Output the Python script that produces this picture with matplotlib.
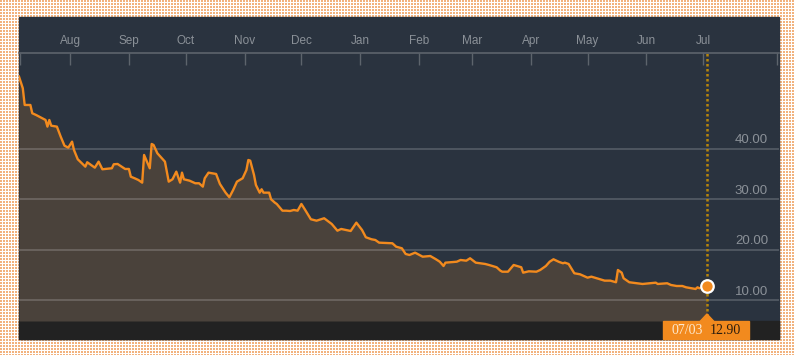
import numpy as np
import pandas as pd
import matplotlib
matplotlib.use( 'Agg' )
import matplotlib.pyplot as plt
import matplotlib.dates as mdates
from matplotlib.patches import Rectangle, Polygon
from matplotlib.transforms import offset_copy

# price series (days counted from start_date)
start_date = '2017-07-05'
day_offsets = [ 0, 2, 3, 6, 7, 9, 14, 15, 16, 17, 20, 22, 24, 26, 28, 29, 31, 35, 36, 40, 42, 44, 49, 50, 52, 56, 58, 59, 61,
    63, 65, 66, 69, 70, 71, 73, 77, 79, 81, 83, 85, 86, 87, 90, 93, 95, 97, 98, 100, 104, 106, 109, 111, 113, 115, 118,
    120, 121, 122, 124, 125, 127, 128, 129, 132, 133, 135, 136, 139, 141, 143, 145, 147, 149, 151, 154, 157, 161, 165,
    168, 170, 175, 178, 181, 183, 186, 188, 190, 197, 199, 202, 204, 206, 209, 213, 217, 220, 222, 224, 225, 231, 233,
    236, 238, 241, 246, 248, 252, 254, 255, 258, 261, 265, 266, 269, 273, 275, 278, 280, 282, 285, 287, 288, 290, 293,
    296, 300, 302, 306, 309, 312, 315, 316, 318, 319, 322, 326, 329, 336, 337, 342, 344, 347, 350, 352, 357, 358, 359, 363 ]
prices = [ 54.32, 52.02, 48.71, 48.71, 47.07, 46.73, 45.74, 44.42, 45.74, 44.61, 44.42, 42.44, 40.65, 40.26, 41.45,
    39.80, 37.96, 36.50, 37.37, 36.30, 37.49, 35.98, 36.18, 36.97, 37.03, 36.04, 36.04, 34.51, 34.20,
    33.86, 33.33, 38.81, 36.18, 40.99, 40.79, 39.15, 37.49, 33.53, 34.00, 35.51, 33.33, 35.31, 34.00, 33.72, 33.21,
    33.21, 32.54, 34.20, 35.31, 35.05, 33.07, 31.35, 30.44, 31.88, 33.53, 34.20, 35.84, 37.82, 37.68, 34.85, 32.87,
    31.35, 32.02, 31.35, 31.35, 30.04, 29.37, 29.11, 27.78, 27.78, 27.72, 27.92, 27.78, 29.11, 27.92, 26.08, 25.80,
    26.28, 25.15, 23.82, 24.16, 23.76, 25.41, 23.96, 22.52, 22.12, 21.98, 21.45, 21.33, 20.65, 20.34, 19.21, 19.01,
    19.47, 18.67, 18.81, 18.16, 17.68, 16.83, 17.49, 17.68, 18.02, 17.88, 18.36, 17.49, 17.23, 17.03, 16.58, 15.90,
    15.70, 15.70, 17.03, 16.58, 15.51, 15.78, 15.70, 16.04, 16.83, 17.68, 18.16, 17.63, 17.37, 17.49, 17.23, 15.39,
    15.19, 14.52, 14.72, 14.26, 13.93, 13.93, 13.61, 16.04, 15.51, 14.40, 13.61, 13.41, 13.27, 13.53, 13.27, 13.41,
    13.07, 12.87, 12.87, 12.61, 12.28, 12.61, 12.42, 12.90 ]

month_ticks = pd.date_range( '2017-08-01', '2018-07-01', freq='MS' )
grid_levels = [ 10, 20, 30, 40 ]
x_limits = ( pd.Timestamp( '2017-07-05' ), pd.Timestamp( '2018-08-10' ) )
y_limits = ( 5.94, 59.0 )

BG = '#2a333f'
FILL = '#4a423b'
ORANGE = '#f28a1e'
LABEL = '#8b9198'
TICK = '#5d646c'

W, H = 795, 355

def fx( px ):
    return px / W

def fy( py ):
    return 1 - py / H

dates = pd.Timestamp( start_date ) + pd.to_timedelta( day_offsets, unit='D' )
last_date, last_price = dates[ -1 ], prices[ -1 ]

fig = plt.figure( figsize=( W / 100, H / 100 ), dpi=100 )

# dotted orange border
pattern = np.full( ( H, W, 3 ), 255, dtype=np.uint8 )
yy, xx = np.mgrid[ 0:H, 0:W ]
pattern[ ( yy % 3 < 2 ) & ( xx % 3 < 2 ) ] = ( 242, 178, 125 )
fig.figimage( pattern, zorder=-3 )

# dark panel and bottom band
fig.add_artist( Rectangle( ( fx( 19 ), fy( 339 ) ), fx( 779 ) - fx( 19 ), fy( 17 ) - fy( 339 ),
    transform=fig.transFigure, color=BG, zorder=-2 ) )
fig.add_artist( Rectangle( ( fx( 19 ), fy( 339 ) ), fx( 779 ) - fx( 19 ), fy( 321 ) - fy( 339 ),
    transform=fig.transFigure, color='#222222', zorder=-1 ) )

ax = fig.add_axes( [ fx( 19 ), fy( 321 ), 760 / W, 268 / H ] )
ax.set_facecolor( 'none' )

ax.fill_between( dates, prices, y_limits[ 0 ], color=FILL, lw=0, zorder=1 )
for level in grid_levels:
    ax.axhline( level, color='white', alpha=0.22, lw=1.1, zorder=2 )
ax.plot( dates, prices, color=ORANGE, lw=1.7, zorder=4 )

ax.set_xlim( x_limits )
ax.set_ylim( y_limits )

# value labels above grid lines
lab_trans = offset_copy( ax.get_yaxis_transform(), fig=fig, x=0, y=4.3, units='points' )
for level in grid_levels:
    ax.text( 0.9855, level, f'{level:.2f}', transform=lab_trans, ha='right', va='baseline',
        color=LABEL, fontsize=9.5, family='Liberation Sans' )

# month axis along the top
ax.xaxis.tick_top()
ax.set_xticks( month_ticks )
ax.xaxis.set_major_formatter( mdates.DateFormatter( '%b' ) )
ax.set_xticks( [ x_limits[ 0 ] + pd.Timedelta( hours=18 ), x_limits[ 1 ] - pd.Timedelta( days=1 ) ], minor=True )
ax.tick_params( axis='x', which='both', direction='in', length=8.6, width=1.0, color=TICK,
    labelcolor=LABEL, labelsize=8.5, pad=4.5 )
for lbl in ax.get_xticklabels():
    lbl.set_family( 'Liberation Sans' )
ax.set_yticks( [] )
for side in [ 'left', 'right', 'bottom' ]:
    ax.spines[ side ].set_visible( False )
ax.spines[ 'top' ].set_color( TICK )
ax.spines[ 'top' ].set_linewidth( 1.2 )

# cursor on last point
ax.axvline( last_date, color='#b8860b', ls=( 0, ( 1.0, 1.0 ) ), lw=1.8, zorder=3 )
ax.plot( [ last_date ], [ last_price ], 'o', ms=9, mfc=ORANGE, mec='white', mew=1.6, zorder=5, clip_on=False )

xc = ax.transData.transform( ( mdates.date2num( last_date ), 0 ) )[ 0 ]
fig.add_artist( Rectangle( ( fx( xc - 44 ), fy( 339 ) ), 86 / W, 18 / H,
    transform=fig.transFigure, color=ORANGE, zorder=6 ) )
fig.add_artist( Polygon( [ ( fx( xc - 7 ), fy( 321.5 ) ), ( fx( xc + 7 ), fy( 321.5 ) ), ( fx( xc ), fy( 314 ) ) ],
    closed=True, transform=fig.transFigure, color=ORANGE, zorder=6 ) )
fig.text( fx( xc - 20 ), fy( 330 ), last_date.strftime( '%m/%d' ), ha='center', va='center',
    color='#fde9cf', fontsize=10, family='Liberation Serif', zorder=7 )
fig.text( fx( xc + 18 ), fy( 330 ), f'{last_price:.2f}', ha='center', va='center',
    color='#2b1d0e', fontsize=10, family='Liberation Serif', zorder=7 )

fig.savefig( 'out.png', dpi=100 )
